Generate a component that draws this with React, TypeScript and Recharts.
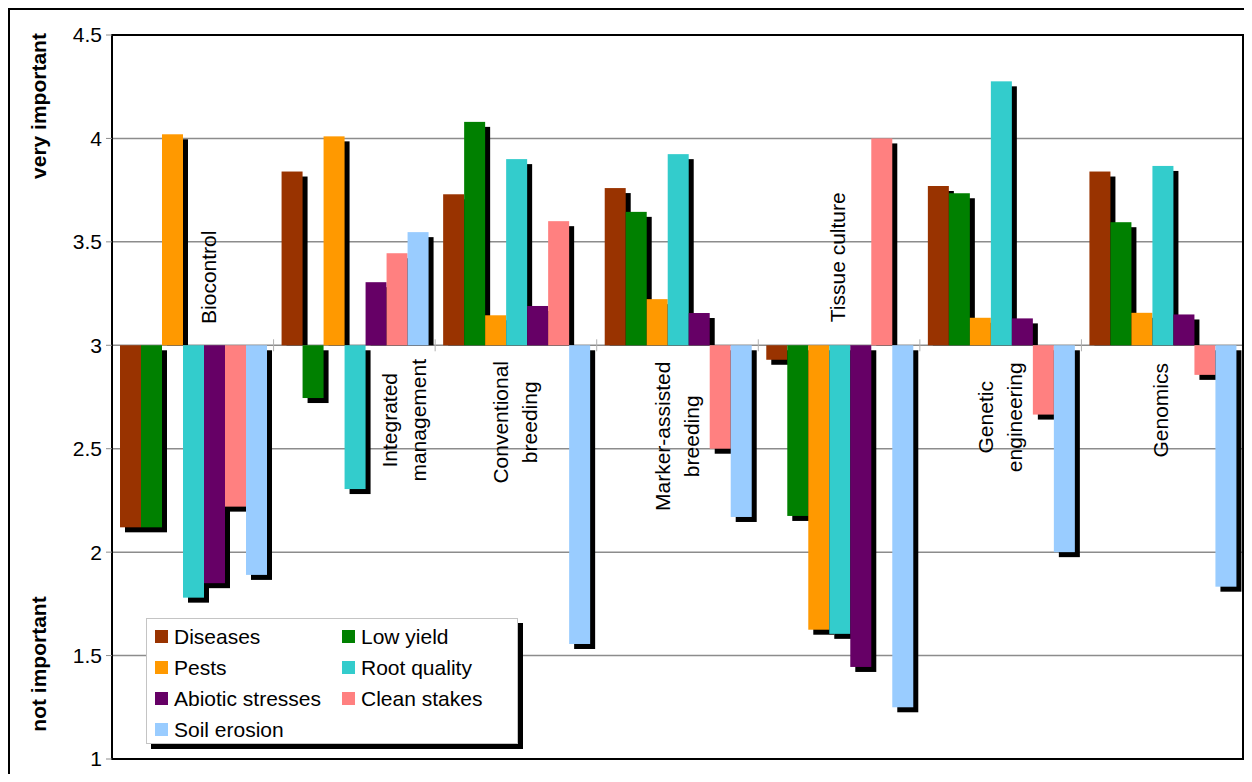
import React from "react";
import {
  BarChart,
  Bar,
  XAxis,
  YAxis,
  CartesianGrid,
  Legend,
  ReferenceLine,
  ReferenceArea,
} from "recharts";

// technologies (x categories)
const categories = [
  "Biocontrol",
  "Integrated management",
  "Conventional breeding",
  "Marker-assisted breeding",
  "Tissue culture",
  "Genetic engineering",
  "Genomics",
];
const categoryLines = [
  ["Biocontrol"],
  ["Integrated", "management"],
  ["Conventional", "breeding"],
  ["Marker-assisted", "breeding"],
  ["Tissue culture"],
  ["Genetic", "engineering"],
  ["Genomics"],
];

// mean importance scores per constraint
const diseases = [2.12, 3.84, 3.73, 3.76, 2.93, 3.77, 3.84];
const lowYield = [2.12, 2.745, 4.08, 3.645, 2.175, 3.735, 3.595];
const pests = [4.02, 4.01, 3.145, 3.223, 1.625, 3.133, 3.157];
const rootQuality = [1.78, 2.305, 3.9, 3.924, 1.605, 4.276, 3.867];
const abioticStresses = [1.85, 3.305, 3.19, 3.156, 1.445, 3.13, 3.149];
const cleanStakes = [2.22, 3.445, 3.6, 2.5, 4.0, 2.665, 2.857];
const soilErosion = [1.89, 3.547, 1.556, 2.17, 1.25, 2.0, 1.833];

const yTicks = [1, 1.5, 2, 2.5, 3, 3.5, 4, 4.5];
const BASE = 3;

const series = [
  { key: "diseases", name: "Diseases", color: "#993300", values: diseases },
  { key: "lowYield", name: "Low yield", color: "#008000", values: lowYield },
  { key: "pests", name: "Pests", color: "#FF9900", values: pests },
  { key: "rootQuality", name: "Root quality", color: "#33CCCC", values: rootQuality },
  { key: "abiotic", name: "Abiotic stresses", color: "#660066", values: abioticStresses },
  { key: "cleanStakes", name: "Clean stakes", color: "#FF8080", values: cleanStakes },
  { key: "soilErosion", name: "Soil erosion", color: "#99CCFF", values: soilErosion },
];

const data = categories.map((name, i) => {
  const row: any = { name };
  series.forEach((s) => (row[s.key] = s.values[i]));
  return row;
});

// layout
const W = 1236;
const H = 764;
const MARGIN = { top: 25, right: 3, bottom: 15, left: 0 };
const Y_AXIS_W = 102;
const FONT = "'Liberation Sans', Arial, Helvetica, sans-serif";
const SHADOW = 5;
// label placement inside each band: x offset from band start, y offset of centre from the 3 line
const labelPos = [
  { dx: 96, dy: -68 },
  { dx: 130, dy: 75 },
  { dx: 79, dy: 77 },
  { dx: 80, dy: 91 },
  { dx: 79, dy: -88 },
  { dx: 80, dy: 72 },
  { dx: 79, dy: 65 },
];

const shadowBar = (key: string) => (props: any) => {
  const { x, y, width, height, fill, payload } = props;
  if (x == null || y == null) return <g />;
  const top = Math.min(y, y + height);
  const h = Math.abs(height);
  const up = payload && payload[key] >= BASE;
  const sh = Math.max(0, up ? h - SHADOW : h);
  return (
    <g>
      <rect x={x + SHADOW} y={top + SHADOW} width={width} height={sh} fill="#000" />
      <rect x={x} y={top} width={width} height={h} fill={fill} />
    </g>
  );
};

const CategoryMarks = (props: any) => {
  const vb = props.viewBox || {};
  const left = vb.x ?? MARGIN.left + Y_AXIS_W;
  const width = vb.width ?? W - MARGIN.left - Y_AXIS_W - MARGIN.right;
  const base = vb.y ?? 346 - 10;
  const band = width / categories.length;
  return (
    <g>
      {categories.slice(1).map((c, i) => (
        <line
          key={"t" + c}
          x1={left + band * (i + 1)}
          x2={left + band * (i + 1)}
          y1={base - 6}
          y2={base + 6}
          stroke="#b0b0b0"
          strokeWidth={1}
        />
      ))}
      {categoryLines.map((lines, i) => {
        const cx = left + band * i + labelPos[i].dx;
        const cy = base + labelPos[i].dy;
        return (
          <text
            key={"l" + i}
            transform={`translate(${cx},${cy}) rotate(-90)`}
            textAnchor="middle"
            dominantBaseline="central"
            fontFamily={FONT}
            fontSize={21}
            fill="#000"
          >
            {lines.map((ln, j) => (
              <tspan key={j} x={0} y={(j - (lines.length - 1) / 2) * 29}>
                {ln}
              </tspan>
            ))}
          </text>
        );
      })}
    </g>
  );
};

const YSideLabels = (props: any) => {
  const vb = props.viewBox || {};
  const top = vb.y ?? MARGIN.top;
  const h = vb.height ?? H - MARGIN.top - MARGIN.bottom;
  const x = 28;
  return (
    <g fontFamily={FONT} fontSize={21} fontWeight="bold" fill="#000">
      <text transform={`translate(${x},${top + 71}) rotate(-90)`} textAnchor="middle" dominantBaseline="central">
        very important
      </text>
      <text transform={`translate(${x},${top + h - 95}) rotate(-90)`} textAnchor="middle" dominantBaseline="central">
        not important
      </text>
    </g>
  );
};

const LegendBox = () => (
  <div
    style={{
      position: "relative",
      width: 370,
      height: 124,
      border: "1px solid #c4c4c4",
      background: "#fff",
      boxShadow: "5px 5px 0 #000",
      fontFamily: FONT,
      fontSize: 21,
      color: "#000",
    }}
  >
    {series.map((s, i) => (
      <div
        key={s.key}
        style={{
          position: "absolute",
          left: i % 2 === 0 ? 8 : 195,
          top: 2 + Math.floor(i / 2) * 31,
          height: 31,
          display: "flex",
          alignItems: "center",
          whiteSpace: "nowrap",
        }}
      >
        <span style={{ display: "inline-block", width: 13, height: 13, background: s.color, marginRight: 6 }} />
        {s.name}
      </div>
    ))}
  </div>
);

export default function App() {
  return (
    <div style={{ borderTop: "2px solid #000", borderLeft: "2px solid #000", width: W, height: H }}>
      <BarChart width={W} height={H} data={data} margin={MARGIN} barCategoryGap={8} barGap={0}>
        <CartesianGrid vertical={false} stroke="#8c8c8c" strokeWidth={1.5} />
        <XAxis dataKey="name" hide />
        <YAxis
          type="number"
          domain={[1, 4.5]}
          ticks={yTicks}
          width={Y_AXIS_W}
          axisLine={{ stroke: "#000", strokeWidth: 2 }}
          tickLine={{ stroke: "#8c8c8c" }}
          tickSize={6}
          tickMargin={4}
          tick={{ fill: "#000", fontSize: 21, fontFamily: FONT }}
          label={(p: any) => <YSideLabels {...p} />}
        />
        <Legend
          layout="vertical"
          align="center"
          verticalAlign="middle"
          content={() => <LegendBox />}
          wrapperStyle={{ position: "absolute", left: 136, top: 608, width: 372, height: 126 }}
        />
        {series.map((s) => (
          <Bar
            key={s.key}
            name={s.name}
            dataKey={(d: any) => [BASE, d[s.key]]}
            fill={s.color}
            shape={shadowBar(s.key)}
            isAnimationActive={false}
          />
        ))}
        <ReferenceLine y={BASE} stroke="transparent" label={(p: any) => <CategoryMarks {...p} />} />
        <ReferenceArea y1={1} y2={4.5} fill="none" stroke="#000" strokeWidth={2} ifOverflow="visible" />
      </BarChart>
    </div>
  );
}
